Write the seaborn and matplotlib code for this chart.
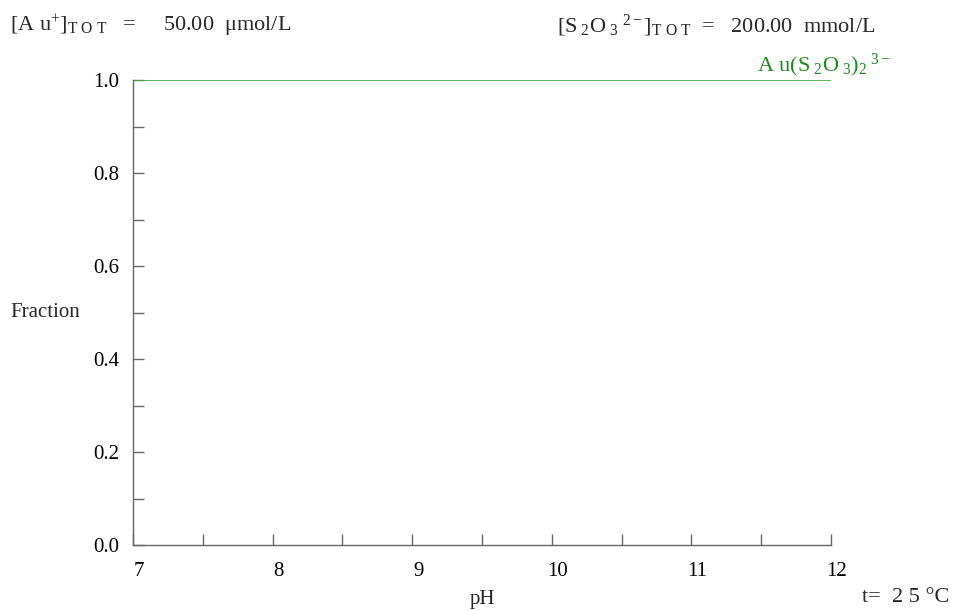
import numpy as np
import pandas as pd
import seaborn as sns
import matplotlib.pyplot as plt
import matplotlib.transforms as mtransforms

# data: Au(S2O3)2^3- fraction is ~1 over the whole pH range
ph = [7.0, 8.0, 9.0, 10.0, 11.0, 12.0]
frac_au_s2o3 = [1.0, 1.0, 1.0, 1.0, 1.0, 1.0]
species = "Au(S2O3)2 3-"

x_ticks = [7, 8, 9, 10, 11, 12]
y_ticks = [0.0, 0.2, 0.4, 0.6, 0.8, 1.0]

df = pd.DataFrame({"pH": ph, "Fraction": frac_au_s2o3, "species": species})

sns.set_style("white")
plt.rcParams['font.family'] = ['Liberation Serif', 'DejaVu Serif']
plt.rcParams['mathtext.fontset'] = 'custom'
plt.rcParams['mathtext.rm'] = 'Liberation Serif'
plt.rcParams['mathtext.it'] = 'Liberation Serif'

fig = plt.figure(figsize=(9.58, 6.11), dpi=100)
ax = fig.add_axes([0.1388, 0.108, 0.7286, 0.761])

sns.lineplot(data=df, x="pH", y="Fraction", color="#3daa3d", linewidth=1.2,
             legend=False, ax=ax)

ax.set_xlim(7, 12)
ax.set_ylim(0, 1.0)
ax.set_xticks(x_ticks)
ax.set_xticklabels([str(t) for t in x_ticks])
ax.set_yticks(y_ticks)
ax.set_yticklabels([f"{t:.1f}" for t in y_ticks])
ax.set_xticks(np.arange(7.5, 12, 1.0), minor=True)
ax.set_yticks(np.arange(0.1, 1.0, 0.2), minor=True)
ax.tick_params(which="both", direction="in", colors="#666666", labelcolor="black",
               labelsize=15, bottom=True, left=True, length=8, width=1)
ax.tick_params(axis="x", which="major", pad=12)
ax.tick_params(axis="y", which="major", pad=10)

# x tick labels sit a little right of their ticks in the original
shift = mtransforms.ScaledTranslation(6 / 100, 0, fig.dpi_scale_trans)
for lab in ax.get_xticklabels():
    lab.set_transform(lab.get_transform() + shift)

sns.despine(ax=ax)
for s in ["left", "bottom"]:
    ax.spines[s].set_color("#666666")
    ax.spines[s].set_linewidth(1)

ax.set_xlabel("pH", fontsize=15, va="center")
ax.set_ylabel("Fraction", fontsize=15, rotation=0, ha="left", va="center")
ax.yaxis.set_label_coords(-0.176, 0.5)
ax.xaxis.set_label_coords(0.5, -0.118)

fig.text(0.010, 0.958, r"[A u$^{+}$]$_{\rm T\ O\ T}$   =     50.00  $\mathrm{\mu}$mol/L",
         fontsize=16, ha="left", va="center")
fig.text(0.581, 0.958,
         r"[S$_{\ 2}$O$_{\ 3}$$^{\ 2-}$]$_{\rm T\ O\ T}$  =   200.00  mmol/L",
         fontsize=16, ha="left", va="center")
fig.text(0.790, 0.893, r"A u(S$_{\ 2}$O$_{\ 3}$)$_{2}$$^{\ 3-}$", color="#1a8c1a",
         fontsize=16, ha="left", va="center")
fig.text(0.900, 0.022, "t=  2 5 °C", fontsize=16, ha="left", va="center")

fig.savefig("out.png", dpi=100)
